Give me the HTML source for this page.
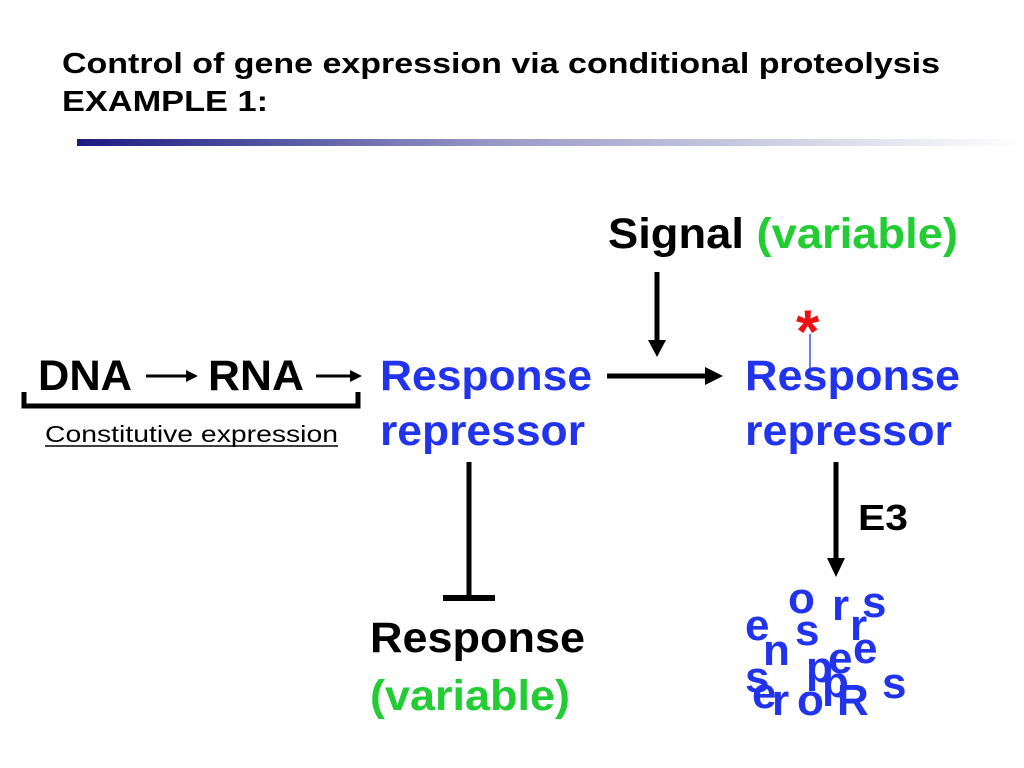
<!DOCTYPE html>
<html><head><meta charset="utf-8"><style>
body{margin:0;background:#fff;}
svg{display:block;font-family:"Liberation Sans",Arial,sans-serif;font-weight:bold;}
</style></head><body>
<svg width="1024" height="768" viewBox="0 0 1024 768">
<defs>
<linearGradient id="g" x1="0" x2="1" y1="0" y2="0">
<stop offset="0" stop-color="#1a1a80"/><stop offset="0.45" stop-color="#9a9ac8"/><stop offset="1" stop-color="#ffffff"/>
</linearGradient>
</defs>
<text x="62" y="73" font-size="29" textLength="878" lengthAdjust="spacingAndGlyphs">Control of gene expression via conditional proteolysis</text>
<text x="62" y="111" font-size="29" textLength="206" lengthAdjust="spacingAndGlyphs">EXAMPLE 1:</text>
<rect x="77" y="139" width="947" height="7" fill="url(#g)"/>

<text x="608" y="248" font-size="43" textLength="350" lengthAdjust="spacingAndGlyphs">Signal <tspan fill="#22cc33">(variable)</tspan></text>
<line x1="657" y1="272" x2="657" y2="342" stroke="#000" stroke-width="5"/>
<polygon points="648,340 666,340 657,357" fill="#000"/>

<text x="796" y="352" font-size="60" fill="#ee1111">*</text>
<line x1="810" y1="334" x2="810" y2="368" stroke="#3355ee" stroke-width="1.5"/>

<text x="38" y="390" font-size="43" textLength="94" lengthAdjust="spacingAndGlyphs">DNA</text>
<text x="208" y="390" font-size="43" textLength="96" lengthAdjust="spacingAndGlyphs">RNA</text>
<line x1="146" y1="376" x2="188" y2="376" stroke="#000" stroke-width="3"/>
<polygon points="186,370 198,376 186,382" fill="#000"/>
<line x1="316" y1="376" x2="352" y2="376" stroke="#000" stroke-width="3"/>
<polygon points="350,370 362,376 350,382" fill="#000"/>
<path d="M24,392 V406 H358 V392" fill="none" stroke="#000" stroke-width="5"/>
<text x="45" y="442" font-size="23" font-weight="normal" textLength="293" lengthAdjust="spacingAndGlyphs">Constitutive expression</text>
<line x1="45" y1="446" x2="338" y2="446" stroke="#000" stroke-width="1.5"/>

<text x="380" y="390" font-size="43" fill="#2233ee" textLength="212" lengthAdjust="spacingAndGlyphs">Response</text>
<text x="380" y="445" font-size="43" fill="#2233ee" textLength="205" lengthAdjust="spacingAndGlyphs">repressor</text>
<text x="745" y="390" font-size="43" fill="#2233ee" textLength="215" lengthAdjust="spacingAndGlyphs">Response</text>
<text x="745" y="445" font-size="43" fill="#2233ee" textLength="207" lengthAdjust="spacingAndGlyphs">repressor</text>

<line x1="607" y1="376" x2="708" y2="376" stroke="#000" stroke-width="5"/>
<polygon points="705,367 723,376 705,385" fill="#000"/>

<line x1="469" y1="462" x2="469" y2="598" stroke="#000" stroke-width="5"/>
<line x1="443" y1="598" x2="495" y2="598" stroke="#000" stroke-width="6"/>

<text x="370" y="652" font-size="43" textLength="215" lengthAdjust="spacingAndGlyphs">Response</text>
<text x="370" y="710" font-size="43" fill="#22cc33" textLength="200" lengthAdjust="spacingAndGlyphs">(variable)</text>

<line x1="836" y1="462" x2="836" y2="560" stroke="#000" stroke-width="5"/>
<polygon points="827,558 845,558 836,577" fill="#000"/>
<text x="858" y="530" font-size="36" textLength="50" lengthAdjust="spacingAndGlyphs">E3</text>

<g font-size="44" fill="#2233ee">
<text x="788" y="613">o</text>
<text x="832" y="620">r</text>
<text x="862" y="617">s</text>
<text x="745" y="640">e</text>
<text x="850" y="640">r</text>
<text x="795" y="645">s</text>
<text x="763" y="665">n</text>
<text x="853" y="663">e</text>
<text x="828" y="673">e</text>
<text x="806" y="682">p</text>
<text x="745" y="692">s</text>
<text x="882" y="698">s</text>
<text x="822" y="697">p</text>
<text x="752" y="708">e</text>
<text x="772" y="715">r</text>
<text x="797" y="715">o</text>
<text x="837" y="715">R</text>
</g>
</svg>
</body></html>
